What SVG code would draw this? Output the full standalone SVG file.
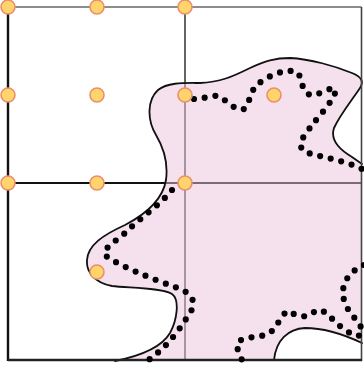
<svg xmlns="http://www.w3.org/2000/svg" width="364" height="370" viewBox="0 0 364 370">
<style>
.grid{fill:none;stroke-width:1.8}
.outline{fill:none;stroke:#111;stroke-width:1.8;stroke-linejoin:round;stroke-linecap:round}
.dots{fill:none;stroke:#000;stroke-width:6.2;stroke-linecap:round;stroke-dasharray:0 10.8}
.pt{fill:#ffd46a;stroke:#e98f6c;stroke-width:1.6}
</style>
<rect width="364" height="370" fill="#fff"/>
<g id="grid-lines">
<line class="grid" x1="185" y1="7" x2="185" y2="360" stroke="#555"/>
<line class="grid" x1="8" y1="183" x2="361" y2="183" stroke="#111"/>
</g>
<g id="region">
<path d="M115,361 C135,357 160,350 170,333 C177,320 180,300 172,294 C163,288 130,288 112,286 C95,283 86,272 87,260 C88,245 103,235 125,225 C150,212 163,198 166,180 C168,165 165,150 156,135 C147,120 147,100 158,90 C168,82 185,83 200,83 C220,82 232,77 250,68 C265,61 275,58 290,58 C310,59 335,66 352,73 C362,77 364,82 360,88 C352,100 340,115 334,128 C330,140 340,150 352,157 L362,164 L362,343 C345,335 325,328 305,328 C288,329 276,340 274,360 Z" fill="rgb(236,196,222)" fill-opacity="0.5"/>
<path class="outline" d="M115,361 C135,357 160,350 170,333 C177,320 180,300 172,294 C163,288 130,288 112,286 C95,283 86,272 87,260 C88,245 103,235 125,225 C150,212 163,198 166,180 C168,165 165,150 156,135 C147,120 147,100 158,90 C168,82 185,83 200,83 C220,82 232,77 250,68 C265,61 275,58 290,58 C310,59 335,66 352,73 C362,77 364,82 360,88 C352,100 340,115 334,128 C330,140 340,150 352,157 L362,164"/>
<path class="outline" d="M362,343 C345,335 325,328 305,328 C288,329 276,340 274,360"/>
</g>
<g id="frame">
<line x1="8" y1="7" x2="361.5" y2="7" stroke="#666" stroke-width="1.6"/>
<line x1="361.5" y1="7" x2="361.5" y2="361" stroke="#444" stroke-width="1.6"/>
<line x1="8" y1="6" x2="8" y2="361" stroke="#111" stroke-width="2.4"/>
<line x1="8" y1="360" x2="362" y2="360" stroke="#222" stroke-width="2.4"/>
</g>
<g id="connectors">
<path class="dots" d="M194,99 C200,100 210,95 218,96 C226,99 235,112 244,109 C250,104 250,90 258,84 C268,76 285,68 297,72 C303,78 300,90 310,95 C318,97 330,85 336,90 C334,100 320,115 312,125 C305,135 295,145 305,152 C320,157 345,160 364,170"/>
<path class="dots" d="M172,190 C160,205 140,218 125,233 C115,242 100,250 106,256 C120,266 150,278 175,287 C190,292 198,300 190,313 C180,328 170,345 147,361"/>
<path class="dots" d="M364,265 C348,272 340,285 344,300 C348,315 362,322 362,332 C360,340 350,334 340,326 C330,318 322,305 314,312 C305,320 295,315 288,311 C280,315 278,328 268,334 C258,338 245,336 238,342 C236,350 240,356 242,360"/>
</g>
<g id="points">
<circle id="p1" class="pt" cx="8" cy="7" r="7"/>
<circle id="p2" class="pt" cx="97" cy="7" r="7"/>
<circle id="p3" class="pt" cx="185" cy="7" r="7"/>
<circle id="p4" class="pt" cx="8" cy="95" r="7"/>
<circle id="p5" class="pt" cx="97" cy="95" r="7"/>
<circle id="p6" class="pt" cx="185" cy="95" r="7"/>
<circle id="p7" class="pt" cx="274" cy="95" r="7"/>
<circle id="p8" class="pt" cx="8" cy="183" r="7"/>
<circle id="p9" class="pt" cx="97" cy="183" r="7"/>
<circle id="p10" class="pt" cx="185" cy="183" r="7"/>
<circle id="p11" class="pt" cx="97" cy="272" r="7"/>
</g>
</svg>
